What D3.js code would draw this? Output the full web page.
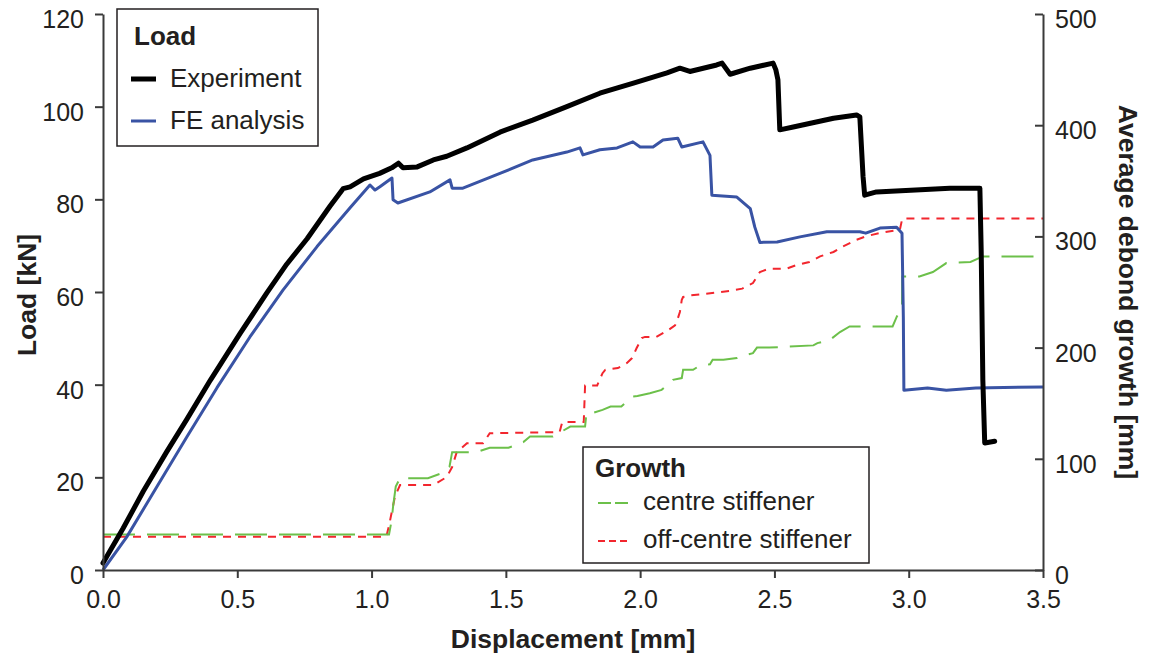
<!DOCTYPE html>
<html>
<head>
<meta charset="utf-8">
<script src="https://cdn.jsdelivr.net/npm/d3@7"></script>
<style>
  html, body { margin: 0; padding: 0; background: #fff; }
  svg { display: block; font-family: "Liberation Sans", Arial, Helvetica, sans-serif; }
  .tick text { fill: #231f20; }
</style>
</head>
<body>
<svg id="chart" width="1150" height="661"></svg>
<script>
// Load–displacement curves [displacement mm, load kN]
const experiment = [
  [0, 1.5], [0.075, 9.0], [0.15, 17.0], [0.237, 25.5], [0.312, 32.5], [0.4, 41.0],
  [0.51, 51.0], [0.61, 59.8], [0.684, 66.0], [0.76, 71.5], [0.845, 78.5],
  [0.894, 82.3], [0.92, 82.7], [0.97, 84.4], [1.03, 85.6], [1.075, 86.8], [1.10, 87.8],
  [1.117, 86.8], [1.17, 87.0], [1.23, 88.5], [1.28, 89.3], [1.355, 91.1], [1.478, 94.5],
  [1.60, 97.1], [1.727, 100.0], [1.85, 102.9], [1.975, 105.1], [2.10, 107.3], [2.148, 108.3],
  [2.185, 107.6], [2.285, 109.0], [2.305, 109.4], [2.335, 107.0], [2.41, 108.3], [2.495, 109.4],
  [2.505, 108.0], [2.513, 105.8], [2.52, 95.0], [2.57, 95.6], [2.72, 97.5], [2.806, 98.2],
  [2.818, 97.8], [2.83, 84.9], [2.836, 80.9], [2.88, 81.6], [3.153, 82.4], [3.265, 82.4],
  [3.27, 68.4], [3.276, 41.0], [3.283, 27.4], [3.32, 27.8]
];

const feAnalysis = [
  [0, 0], [0.088, 7.1], [0.2, 17.9], [0.312, 28.7], [0.424, 39.3], [0.547, 50.3],
  [0.67, 60.4], [0.797, 69.8], [0.92, 78.2], [0.994, 83.1], [1.013, 82.0], [1.031, 82.7],
  [1.076, 84.6], [1.08, 79.9], [1.098, 79.2], [1.217, 81.6], [1.292, 84.2], [1.30, 82.4],
  [1.34, 82.4], [1.478, 85.6], [1.60, 88.5], [1.727, 90.2], [1.776, 91.1], [1.787, 89.6],
  [1.85, 90.7], [1.914, 91.1], [1.973, 92.4], [2.0, 91.3], [2.048, 91.3], [2.085, 92.8],
  [2.14, 93.2], [2.155, 91.3], [2.234, 92.4], [2.26, 89.5], [2.267, 80.9], [2.36, 80.5],
  [2.41, 78.0], [2.427, 74.0], [2.446, 70.7], [2.51, 70.8], [2.595, 71.9], [2.695, 73.0],
  [2.818, 73.0], [2.84, 72.7], [2.893, 73.8], [2.955, 74.0], [2.975, 72.7], [2.98, 54.6],
  [2.982, 38.8], [3.07, 39.3], [3.14, 38.8], [3.25, 39.3], [3.5, 39.5]
];

// Average debond growth [displacement mm, growth mm]
const centreStiffener = [
  [0, 32], [1.065, 32], [1.075, 45], [1.08, 57], [1.09, 75], [1.106, 82.6], [1.21, 82.6],
  [1.26, 87], [1.29, 92.6], [1.30, 106], [1.39, 106], [1.44, 110], [1.51, 110], [1.565, 115],
  [1.59, 120], [1.675, 120], [1.74, 129], [1.795, 129], [1.80, 141], [1.82, 141], [1.86, 144],
  [1.89, 147], [1.93, 147], [1.97, 156], [1.99, 156.5], [2.036, 159], [2.08, 162], [2.10, 166],
  [2.122, 171], [2.155, 172.6], [2.16, 180], [2.197, 180], [2.223, 184], [2.26, 185],
  [2.27, 189], [2.31, 189], [2.36, 190.6], [2.38, 192.6], [2.42, 195], [2.435, 200],
  [2.48, 200], [2.645, 202], [2.66, 204], [2.707, 207], [2.744, 214], [2.78, 219],
  [2.94, 219], [2.956, 228], [2.975, 237], [2.976, 264], [3.04, 264], [3.09, 268],
  [3.14, 276], [3.23, 277], [3.276, 282], [3.5, 282]
];

const offCentreStiffener = [
  [0, 30], [1.055, 30], [1.065, 40], [1.087, 66], [1.106, 76.4], [1.23, 76.4], [1.28, 83.6],
  [1.30, 92.6], [1.317, 106], [1.355, 114], [1.415, 114], [1.44, 123], [1.70, 124],
  [1.71, 133], [1.79, 133], [1.795, 166], [1.84, 166], [1.86, 177], [1.87, 180],
  [1.917, 181.6], [1.95, 186], [1.97, 190.6], [1.987, 199.6], [2.006, 208.6], [2.018, 209.6],
  [2.06, 209.6], [2.10, 215], [2.13, 220], [2.136, 223], [2.148, 232], [2.155, 243],
  [2.16, 245.5], [2.19, 247], [2.234, 248], [2.334, 251], [2.38, 253], [2.42, 258],
  [2.446, 268], [2.48, 271], [2.545, 271], [2.58, 274], [2.63, 277], [2.67, 282],
  [2.72, 286], [2.755, 291], [2.806, 297], [2.84, 300], [2.89, 303], [2.967, 306],
  [2.976, 316], [3.5, 316]
];

const xTicks = [0, 0.5, 1.0, 1.5, 2.0, 2.5, 3.0, 3.5];
const loadTicks = [0, 20, 40, 60, 80, 100, 120];
const growthTicks = [0, 100, 200, 300, 400, 500];

const loadLegend = ["Experiment", "FE analysis"];
const growthLegend = ["centre stiffener", "off-centre stiffener"];

// ---- layout ----
const svg = d3.select("#chart");
const plot = { left: 103, right: 1043, top: 14, bottom: 570 };
const ink = "#231f20", axisCol = "#3a3a3a";
const colors = { exp: "#000000", fe: "#3953a4", centre: "#6cc04a", off: "#f2262e" };
const titleSize = 26.5, legendSize = 26, tickSize = 25;

const x = d3.scaleLinear().domain([0, 3.5]).range([plot.left, plot.right]);
const yLoad = d3.scaleLinear().domain([0, 120]).range([plot.bottom, plot.top]);
const yGrowth = d3.scaleLinear().domain([0, 500]).range([plot.bottom, plot.top]);

const loadLine = d3.line().x(d => x(d[0])).y(d => yLoad(d[1]));
const growthLine = d3.line().x(d => x(d[0])).y(d => yGrowth(d[1]));

// growth curves sit underneath the load curves
svg.append("path").datum(offCentreStiffener).attr("d", growthLine)
  .attr("fill", "none").attr("stroke", colors.off).attr("stroke-width", 2)
  .attr("stroke-dasharray", "8,7");
svg.append("path").datum(centreStiffener).attr("d", growthLine)
  .attr("fill", "none").attr("stroke", colors.centre).attr("stroke-width", 2)
  .attr("stroke-dasharray", "32,12");

svg.append("path").datum(feAnalysis).attr("d", loadLine)
  .attr("fill", "none").attr("stroke", colors.fe).attr("stroke-width", 3)
  .attr("stroke-linejoin", "round");
svg.append("path").datum(experiment).attr("d", loadLine)
  .attr("fill", "none").attr("stroke", colors.exp).attr("stroke-width", 5)
  .attr("stroke-linejoin", "round").attr("stroke-linecap", "round");

// ---- axes ----
function styleAxis(g) {
  g.selectAll(".domain").attr("stroke", axisCol).attr("stroke-width", 2);
  g.selectAll(".tick line").attr("stroke", axisCol).attr("stroke-width", 2);
  g.selectAll(".tick text").attr("fill", ink).style("font-size", tickSize + "px")
    .style("font-family", "'Liberation Sans', Arial, sans-serif");
}

const gx = svg.append("g").attr("transform", `translate(0,${plot.bottom})`)
  .call(d3.axisBottom(x).tickValues(xTicks).tickFormat(d3.format(".1f"))
    .tickSize(8).tickSizeOuter(0).tickPadding(12));
styleAxis(gx);

const gyl = svg.append("g").attr("transform", `translate(${plot.left},0)`)
  .call(d3.axisLeft(yLoad).tickValues(loadTicks).tickFormat(d3.format("d"))
    .tickSize(8).tickSizeOuter(0).tickPadding(11));
styleAxis(gyl);
gyl.selectAll(".tick text").attr("dy", "0.54em");

const gyr = svg.append("g").attr("transform", `translate(${plot.right},0)`)
  .call(d3.axisRight(yGrowth).tickValues(growthTicks).tickFormat(d3.format("d"))
    .tickSize(-8).tickSizeOuter(0).tickPadding(12));
styleAxis(gyr);
gyr.selectAll(".tick text").attr("dy", "0.54em");

// axis titles
const midY = (plot.top + plot.bottom) / 2;
svg.append("text").attr("x", (plot.left + plot.right) / 2).attr("y", 648)
  .attr("text-anchor", "middle").attr("font-weight", "bold").attr("font-size", titleSize)
  .attr("fill", ink).text("Displacement [mm]");
svg.append("text").attr("transform", `translate(36,${midY + 3}) rotate(-90)`)
  .attr("text-anchor", "middle").attr("font-weight", "bold").attr("font-size", titleSize)
  .attr("fill", ink).text("Load [kN]");
svg.append("text").attr("transform", `translate(1119,${midY}) rotate(90)`)
  .attr("text-anchor", "middle").attr("font-weight", "bold").attr("font-size", titleSize)
  .attr("fill", ink).text("Average debond growth [mm]");

// ---- legends ----
const lg1 = svg.append("g");
lg1.append("rect").attr("x", 117).attr("y", 9).attr("width", 201).attr("height", 137)
  .attr("fill", "#fff").attr("stroke", ink).attr("stroke-width", 1.5);
lg1.append("text").attr("x", 134).attr("y", 45).attr("font-weight", "bold")
  .attr("font-size", legendSize).attr("fill", ink).text("Load");
const lg1Style = [
  { color: colors.exp, width: 5, y: 79 },
  { color: colors.fe, width: 3, y: 121 }
];
loadLegend.forEach((name, i) => {
  const s = lg1Style[i];
  lg1.append("line").attr("x1", 131).attr("x2", 156).attr("y1", s.y).attr("y2", s.y)
    .attr("stroke", s.color).attr("stroke-width", s.width);
  lg1.append("text").attr("x", 170).attr("y", s.y + 8).attr("font-size", legendSize)
    .attr("fill", ink).text(name);
});

const lg2 = svg.append("g");
lg2.append("rect").attr("x", 583).attr("y", 447).attr("width", 286).attr("height", 116)
  .attr("fill", "#fff").attr("stroke", ink).attr("stroke-width", 1.5);
lg2.append("text").attr("x", 595).attr("y", 477).attr("font-weight", "bold")
  .attr("font-size", legendSize).attr("fill", ink).text("Growth");
const lg2Style = [
  { color: colors.centre, dash: "13,4", y: 503 },
  { color: colors.off, dash: "7,4", y: 541 }
];
growthLegend.forEach((name, i) => {
  const s = lg2Style[i];
  lg2.append("line").attr("x1", 598).attr("x2", 628).attr("y1", s.y).attr("y2", s.y)
    .attr("stroke", s.color).attr("stroke-width", 2).attr("stroke-dasharray", s.dash);
  lg2.append("text").attr("x", 643).attr("y", s.y + 7).attr("font-size", legendSize)
    .attr("fill", ink).text(name);
});
</script>
</body>
</html>
